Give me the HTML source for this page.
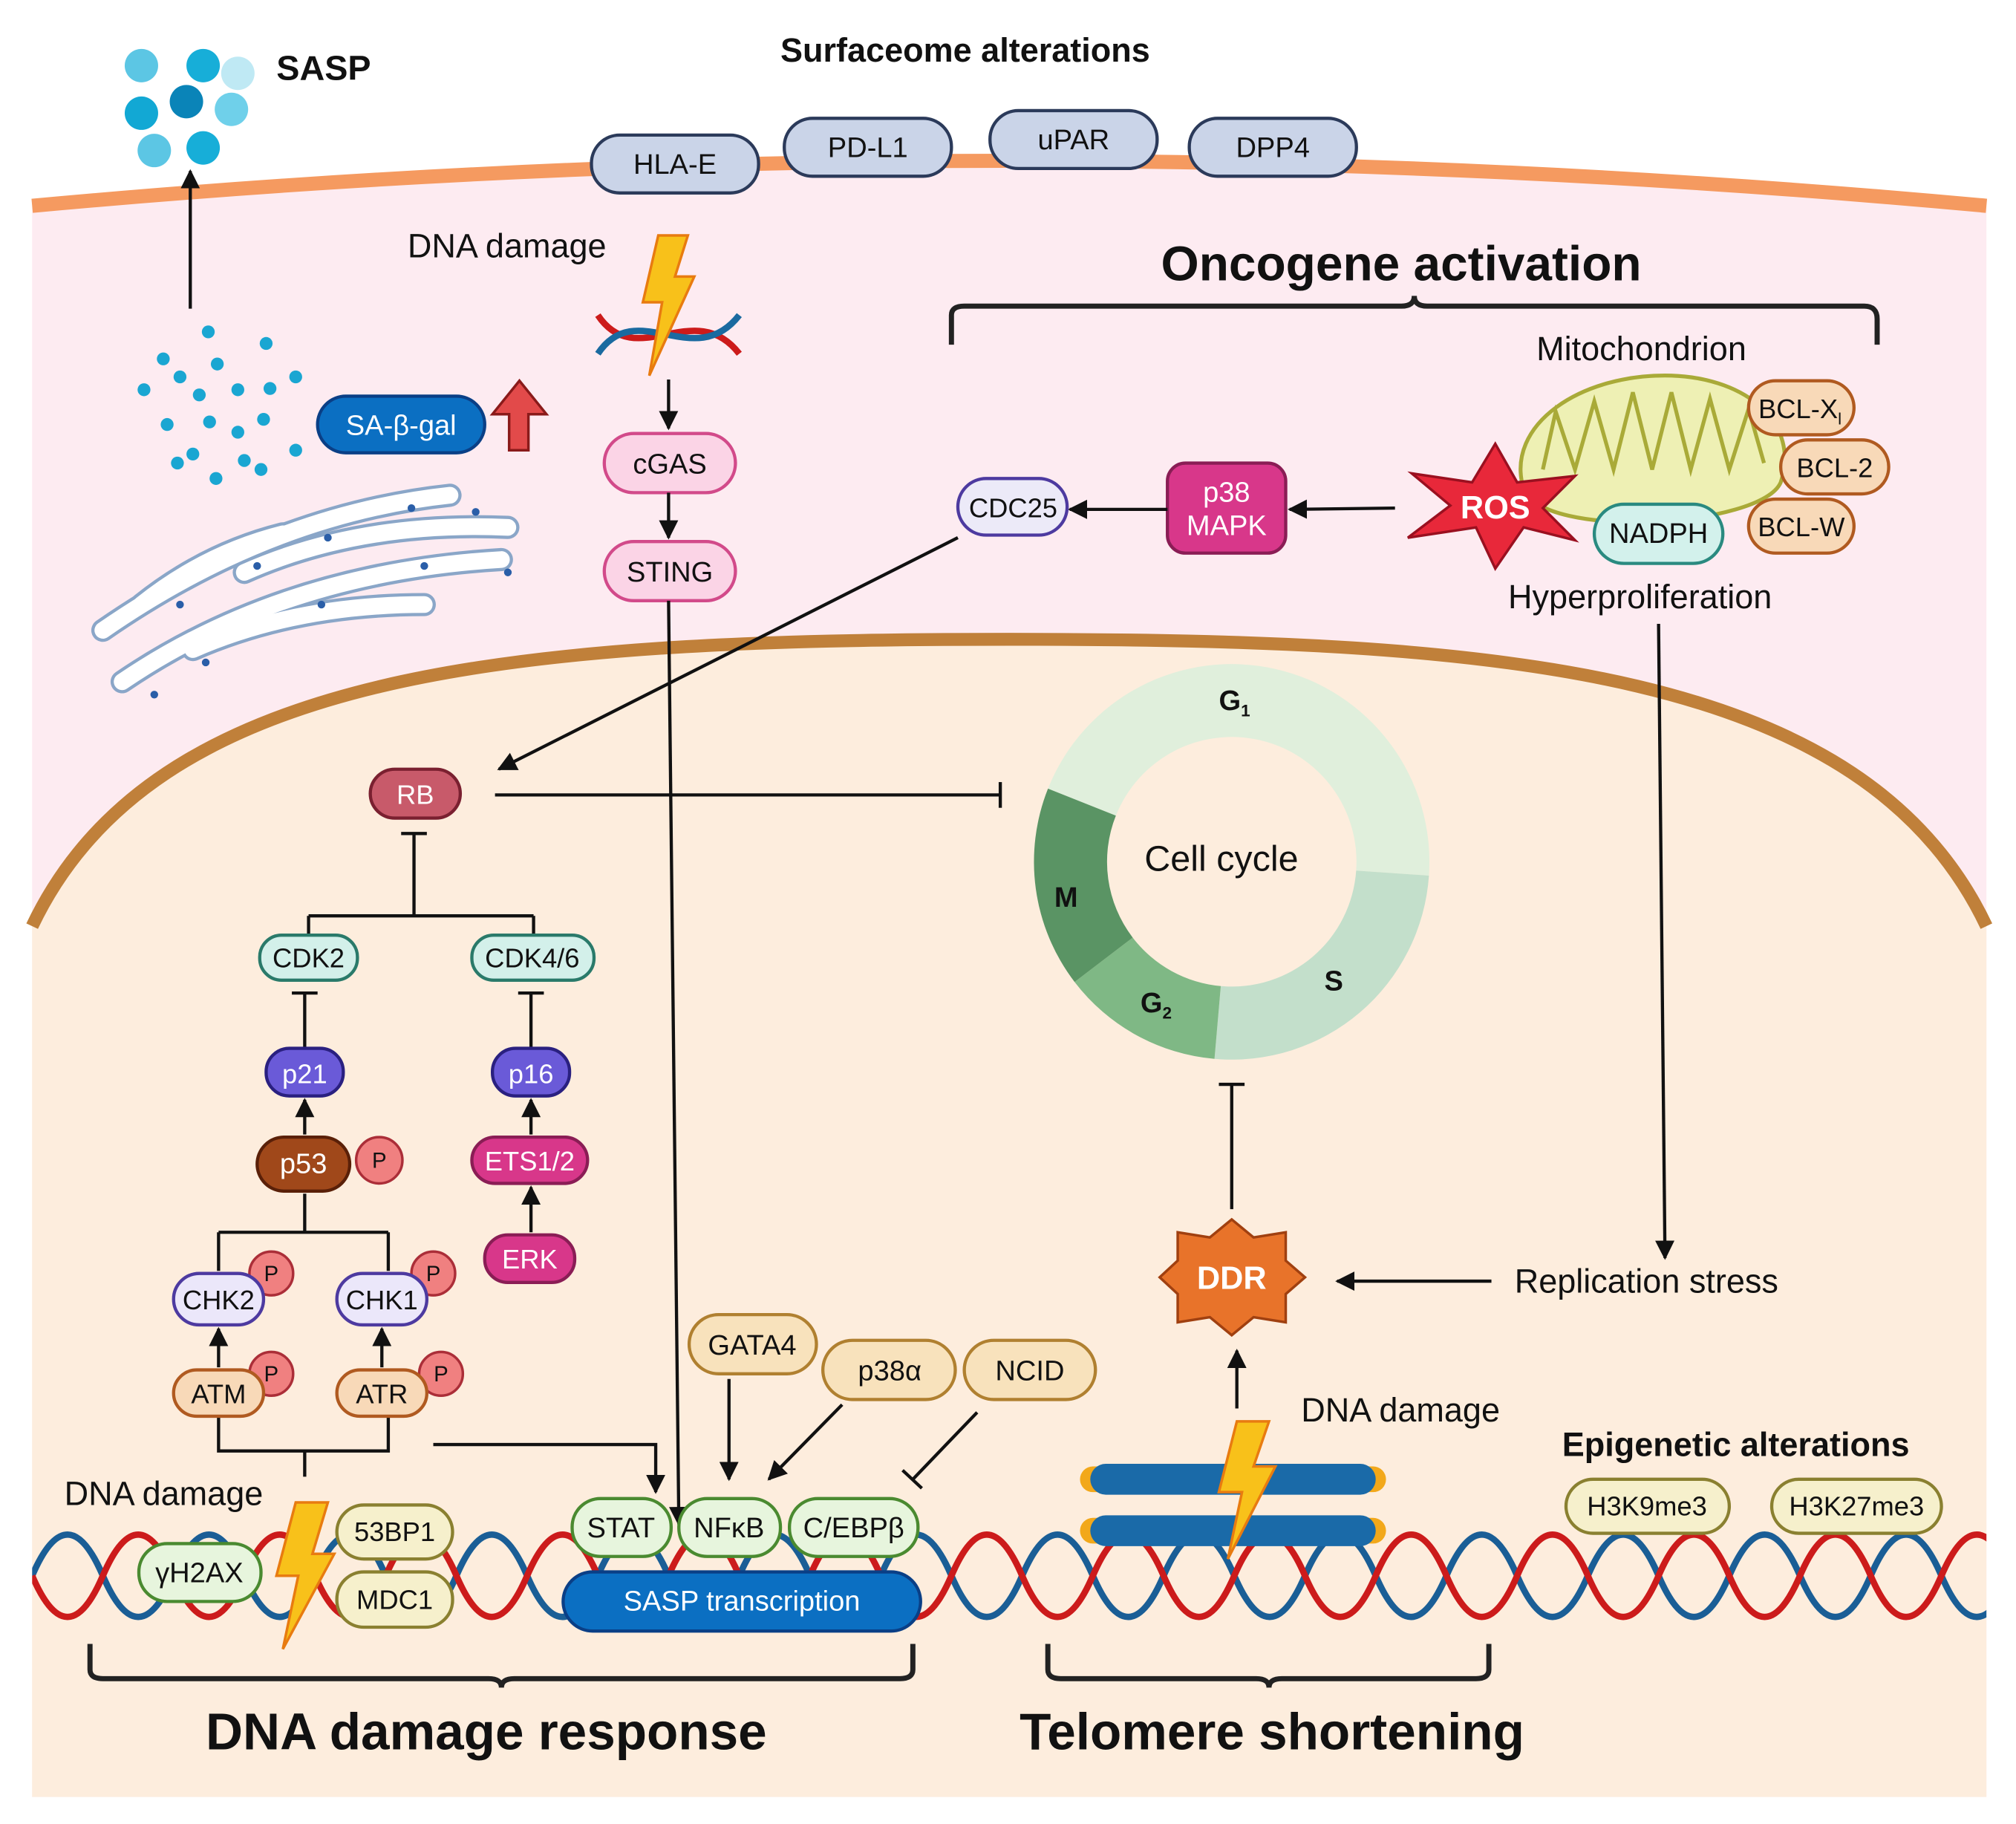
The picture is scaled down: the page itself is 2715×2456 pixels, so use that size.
<!DOCTYPE html>
<html><head><meta charset="utf-8"><style>
html,body{margin:0;padding:0;background:#fff}
svg{display:block}
text{font-family:"Liberation Sans",sans-serif;fill:#111}
</style></head><body>
<svg width="2715" height="2456" viewBox="0 0 1568 1418" preserveAspectRatio="none" xmlns="http://www.w3.org/2000/svg">
<defs>
<marker id="ar" viewBox="0 0 10 10" refX="9" refY="5" markerWidth="6" markerHeight="6" orient="auto"><path d="M0,0 L10,5 L0,10 z" fill="#111"/></marker>
<clipPath id="cp"><rect x="25" y="1100" width="1520" height="300"/></clipPath>
</defs>
<rect width="1568" height="1418" fill="#fff"/>
<path d="M25,160 Q785,90 1545,160 L1545,1397 L25,1397 Z" fill="#fdebf1"/>
<path d="M25,160 Q785,90 1545,160" fill="none" stroke="#f59a60" stroke-width="11"/>
<path d="M25,720 C120,520 400,497 785,497 C1170,497 1450,520 1545,720 L1545,1397 L25,1397 Z" fill="#fdeddd"/>
<path d="M25,720 C120,520 400,497 785,497 C1170,497 1450,520 1545,720" fill="none" stroke="#c0803a" stroke-width="10"/>

<g>
<circle cx="110" cy="51" r="13" fill="#5cc6e4"/><circle cx="158" cy="51" r="13" fill="#17aed8"/><circle cx="185" cy="57" r="13" fill="#bfe9f4"/>
<circle cx="110" cy="88" r="13" fill="#12a8d4"/><circle cx="145" cy="79" r="13" fill="#0a84b8"/><circle cx="180" cy="85" r="13" fill="#6fd0ea"/>
<circle cx="120" cy="117" r="13" fill="#5cc6e4"/><circle cx="158" cy="115" r="13" fill="#17aed8"/>
</g>
<text x="215" y="62" font-size="27" font-weight="bold">SASP</text>
<line x1="148" y1="240" x2="148" y2="133" stroke="#111" stroke-width="2.5" marker-end="url(#ar)"/>
<g fill="#1aa6d2">
<circle cx="162" cy="258" r="5"/><circle cx="207" cy="267" r="5"/><circle cx="127" cy="279" r="5"/><circle cx="169" cy="283" r="5"/><circle cx="140" cy="293" r="5"/><circle cx="185" cy="303" r="5"/><circle cx="210" cy="302" r="5"/><circle cx="230" cy="293" r="5"/><circle cx="112" cy="303" r="5"/><circle cx="155" cy="307" r="5"/><circle cx="205" cy="326" r="5"/><circle cx="130" cy="330" r="5"/><circle cx="163" cy="328" r="5"/><circle cx="185" cy="336" r="5"/><circle cx="150" cy="353" r="5"/><circle cx="190" cy="358" r="5"/><circle cx="230" cy="350" r="5"/><circle cx="138" cy="360" r="5"/><circle cx="168" cy="372" r="5"/><circle cx="203" cy="365" r="5"/>
</g>
<rect x="247" y="308" width="130" height="44" rx="22" fill="#0b6fc2" stroke="#0a3f86" stroke-width="2.5"/>
<text x="312" y="338" font-size="22" text-anchor="middle" style="fill:#fff">SA-β-gal</text>
<path d="M390,322 L403,322 L403,350 L418,350 L418,322 L432,322 L411,296 Z" transform="translate(-7,0)" fill="#e24a4a" stroke="#8a1a1a" stroke-width="2"/>
<g fill="none" stroke-linecap="round">
<g stroke="#8aa6c8" stroke-width="18">
<path d="M80,490 Q210,400 350,385"/><path d="M95,530 Q220,445 390,435"/><path d="M190,445 Q280,405 395,410"/><path d="M150,505 Q230,470 330,470"/><path d="M110,470 Q160,430 220,415"/>
</g>
<g stroke="#fff" stroke-width="13">
<path d="M80,490 Q210,400 350,385"/><path d="M95,530 Q220,445 390,435"/><path d="M190,445 Q280,405 395,410"/><path d="M150,505 Q230,470 330,470"/><path d="M110,470 Q160,430 220,415"/>
</g>
</g>
<g fill="#2a5ea8"><circle cx="140" cy="470" r="3"/><circle cx="200" cy="440" r="3"/><circle cx="255" cy="418" r="3"/><circle cx="320" cy="395" r="3"/><circle cx="370" cy="398" r="3"/><circle cx="395" cy="445" r="3"/><circle cx="160" cy="515" r="3"/><circle cx="250" cy="470" r="3"/><circle cx="330" cy="440" r="3"/><circle cx="120" cy="540" r="3"/></g>

<text x="607" y="48" font-size="26" font-weight="bold">Surfaceome alterations</text>
<g stroke="#2b3a5a" stroke-width="2.5" fill="#cad4e8">
<rect x="460" y="105" width="130" height="45" rx="22"/><rect x="610" y="92" width="130" height="45" rx="22"/><rect x="770" y="86" width="130" height="45" rx="22"/><rect x="925" y="92" width="130" height="45" rx="22"/>
</g>
<g font-size="22" text-anchor="middle">
<text x="525" y="135">HLA-E</text><text x="675" y="122">PD-L1</text><text x="835" y="116">uPAR</text><text x="990" y="122">DPP4</text>
</g>

<text x="317" y="200" font-size="26">DNA damage</text>
<g fill="none" stroke-width="5">
<path d="M465,245 C495,290 540,230 575,275" stroke="#cc1b1b"/>
<path d="M465,275 C495,230 540,290 575,245" stroke="#1a6aa0"/>
</g>
<path d="M512,183 L535,183 L525,215 L540,215 L505,292 L515,235 L500,235 Z" fill="#f8c11a" stroke="#e87b10" stroke-width="2"/>
<line x1="520" y1="295" x2="520" y2="333" stroke="#111" stroke-width="2.5" marker-end="url(#ar)"/>
<rect x="470" y="337" width="102" height="46" rx="23" fill="#fbd4e6" stroke="#d24a8a" stroke-width="2.5"/>
<text x="521" y="368" font-size="22" text-anchor="middle">cGAS</text>
<line x1="520" y1="383" x2="520" y2="418" stroke="#111" stroke-width="2.5" marker-end="url(#ar)"/>
<rect x="470" y="421" width="102" height="46" rx="23" fill="#fbd4e6" stroke="#d24a8a" stroke-width="2.5"/>
<text x="521" y="452" font-size="22" text-anchor="middle">STING</text>
<line x1="520" y1="467" x2="528" y2="1185" stroke="#111" stroke-width="2.5" marker-end="url(#ar)"/>

<text x="903" y="218" font-size="38" font-weight="bold">Oncogene activation</text>
<path d="M740,268 L740,245 Q740,238 750,238 L1090,238 Q1100,238 1100,230 Q1100,238 1110,238 L1450,238 Q1460,238 1460,248 L1460,268" fill="none" stroke="#222" stroke-width="4"/>
<text x="1195" y="280" font-size="26">Mitochondrion</text>
<path d="M1185,380 C1170,330 1230,290 1300,292 C1360,294 1400,330 1385,375 C1370,410 1200,420 1185,380 Z" fill="#eef0b4" stroke="#a9aa38" stroke-width="3"/>
<path d="M1200,365 L1210,320 L1225,365 L1240,312 L1255,365 L1270,305 L1285,365 L1300,305 L1315,365 L1330,310 L1345,365 L1360,318 L1372,360" fill="none" stroke="#a9aa38" stroke-width="3"/>
<g stroke="#b05a20" stroke-width="2.5" fill="#f8d9b8">
<rect x="1360" y="296" width="82" height="42" rx="21"/><rect x="1385" y="342" width="84" height="42" rx="21"/><rect x="1360" y="388" width="82" height="42" rx="21"/>
</g>
<g font-size="21" text-anchor="middle">
<text x="1400" y="325">BCL-X<tspan font-size="13" dy="5">l</tspan></text><text x="1427" y="371">BCL-2</text><text x="1401" y="417">BCL-W</text>
</g>
<rect x="1240" y="392" width="100" height="46" rx="23" fill="#d3f1ec" stroke="#2a8a80" stroke-width="2.5"/>
<text x="1290" y="422" font-size="22" text-anchor="middle">NADPH</text>
<path d="M1163,345 L1180,375 L1225,370 L1200,395 L1225,420 L1185,410 L1163,442 L1148,410 L1095,418 L1128,393 L1098,368 L1145,375 Z" fill="#e8283a" stroke="#9a1020" stroke-width="2"/>
<text x="1163" y="403" font-size="25" font-weight="bold" text-anchor="middle" style="fill:#fff">ROS</text>
<text x="1173" y="473" font-size="26">Hyperproliferation</text>
<line x1="1085" y1="395" x2="1003" y2="396" stroke="#111" stroke-width="2.5" marker-end="url(#ar)"/>
<rect x="908" y="360" width="92" height="70" rx="14" fill="#d8378a" stroke="#8a1d55" stroke-width="2.5"/>
<text x="954" y="390" font-size="22" text-anchor="middle" style="fill:#fff">p38</text>
<text x="954" y="416" font-size="22" text-anchor="middle" style="fill:#fff">MAPK</text>
<line x1="908" y1="396" x2="832" y2="396" stroke="#111" stroke-width="2.5" marker-end="url(#ar)"/>
<rect x="745" y="372" width="85" height="44" rx="22" fill="#eceaf8" stroke="#4d3aa0" stroke-width="2.5"/>
<text x="788" y="402" font-size="21" text-anchor="middle">CDC25</text>
<line x1="745" y1="418" x2="388" y2="598" stroke="#111" stroke-width="2.5" marker-end="url(#ar)"/>
<line x1="1290" y1="485" x2="1295" y2="978" stroke="#111" stroke-width="2.5" marker-end="url(#ar)"/>

<g transform="translate(958,670)">
<path d="M-142.9,-56.9 A153.8,153.8 0 0 1 153.4,10.7 L96.8,6.8 A97,97 0 0 0 -90.1,-35.9 Z" fill="#e0efdc"/>
<path d="M153.4,10.7 A153.8,153.8 0 0 1 -13.4,153.2 L-8.5,96.6 A97,97 0 0 0 96.8,6.8 Z" fill="#c3dfcb"/>
<path d="M-13.4,153.2 A153.8,153.8 0 0 1 -122.2,93.4 L-77.0,58.9 A97,97 0 0 0 -8.5,96.6 Z" fill="#7fb885"/>
<path d="M-122.2,93.4 A153.8,153.8 0 0 1 -142.9,-56.9 L-90.1,-35.9 A97,97 0 0 0 -77.0,58.9 Z" fill="#5a9464"/>
</g>
<text x="950" y="677" font-size="28" text-anchor="middle">Cell cycle</text>
<text x="948" y="552" font-size="22" font-weight="bold">G<tspan font-size="13" dy="5">1</tspan></text>
<text x="1030" y="770" font-size="22" font-weight="bold">S</text>
<text x="887" y="787" font-size="22" font-weight="bold">G<tspan font-size="13" dy="5">2</tspan></text>
<text x="820" y="705" font-size="22" font-weight="bold">M</text>

<rect x="288" y="598" width="70" height="38" rx="19" fill="#c85a6a" stroke="#7a2030" stroke-width="2.5"/>
<text x="323" y="625" font-size="21" text-anchor="middle" style="fill:#fff">RB</text>
<g stroke="#111" stroke-width="2.5" fill="none">
<line x1="385" y1="618" x2="778" y2="618"/><line x1="778" y1="608" x2="778" y2="628"/>
<line x1="322" y1="648" x2="322" y2="712"/><line x1="312" y1="648" x2="332" y2="648"/>
<line x1="240" y1="712" x2="415" y2="712"/><line x1="240" y1="712" x2="240" y2="727"/><line x1="415" y1="712" x2="415" y2="727"/>
<line x1="237" y1="815" x2="237" y2="772"/><line x1="227" y1="772" x2="247" y2="772"/>
<line x1="413" y1="815" x2="413" y2="772"/><line x1="403" y1="772" x2="423" y2="772"/>
<line x1="958" y1="940" x2="958" y2="843"/><line x1="948" y1="843" x2="968" y2="843"/>
<line x1="237" y1="928" x2="237" y2="958"/><line x1="170" y1="958" x2="302" y2="958"/><line x1="170" y1="958" x2="170" y2="988"/><line x1="302" y1="958" x2="302" y2="988"/>
<path d="M170,1102 L170,1128 L302,1128 L302,1102 M237,1128 L237,1148"/>
<path d="M337,1123 L510,1123 L510,1160" marker-end="url(#ar)"/>
</g>
<g stroke="#2a7a6a" stroke-width="2.5" fill="#d3f0ea">
<rect x="202" y="727" width="76" height="35" rx="17"/><rect x="367" y="727" width="95" height="35" rx="17"/>
</g>
<text x="240" y="752" font-size="21" text-anchor="middle">CDK2</text>
<text x="414" y="752" font-size="21" text-anchor="middle">CDK4/6</text>
<g stroke="#2a2080" stroke-width="2.5" fill="#6a5ad8">
<rect x="207" y="815" width="60" height="37" rx="18"/><rect x="383" y="815" width="60" height="37" rx="18"/>
</g>
<text x="237" y="842" font-size="21" text-anchor="middle" style="fill:#fff">p21</text>
<text x="413" y="842" font-size="21" text-anchor="middle" style="fill:#fff">p16</text>
<g stroke="#111" stroke-width="2.5" marker-end="url(#ar)">
<line x1="237" y1="882" x2="237" y2="855"/><line x1="413" y1="882" x2="413" y2="855"/><line x1="413" y1="958" x2="413" y2="923"/>
<line x1="170" y1="1063" x2="170" y2="1033"/><line x1="297" y1="1063" x2="297" y2="1033"/>
<line x1="567" y1="1072" x2="567" y2="1150"/><line x1="655" y1="1092" x2="598" y2="1150"/>
<line x1="1160" y1="996" x2="1040" y2="996"/><line x1="962" y1="1095" x2="962" y2="1050"/>
</g>
<rect x="200" y="884" width="72" height="42" rx="21" fill="#a0481a" stroke="#5a2008" stroke-width="2.5"/>
<text x="236" y="912" font-size="22" text-anchor="middle" style="fill:#fff">p53</text>
<rect x="367" y="884" width="90" height="36" rx="18" fill="#d8378a" stroke="#8a1d55" stroke-width="2.5"/>
<text x="412" y="910" font-size="21" text-anchor="middle" style="fill:#fff">ETS1/2</text>
<rect x="377" y="960" width="70" height="37" rx="18" fill="#d8378a" stroke="#8a1d55" stroke-width="2.5"/>
<text x="412" y="986" font-size="21" text-anchor="middle" style="fill:#fff">ERK</text>
<g stroke="#ab2e38" stroke-width="2" fill="#f08080">
<circle cx="295" cy="902" r="18"/><circle cx="211" cy="990" r="17"/><circle cx="337" cy="990" r="17"/><circle cx="211" cy="1068" r="17"/><circle cx="343" cy="1068" r="17"/>
</g>
<g font-size="17" text-anchor="middle"><text x="295" y="908">P</text><text x="211" y="996">P</text><text x="337" y="996">P</text><text x="211" y="1074">P</text><text x="343" y="1074">P</text></g>
<g stroke="#4d3aa0" stroke-width="2.5" fill="#ebe7fa">
<rect x="135" y="990" width="70" height="40" rx="20"/><rect x="262" y="990" width="70" height="40" rx="20"/>
</g>
<text x="170" y="1018" font-size="21" text-anchor="middle">CHK2</text>
<text x="297" y="1018" font-size="21" text-anchor="middle">CHK1</text>
<g stroke="#b05a20" stroke-width="2.5" fill="#f8d9b8">
<rect x="135" y="1065" width="70" height="36" rx="18"/><rect x="262" y="1065" width="70" height="36" rx="18"/>
</g>
<text x="170" y="1091" font-size="21" text-anchor="middle">ATM</text>
<text x="297" y="1091" font-size="21" text-anchor="middle">ATR</text>

<path d="M958,948 L975,962 L1000,958 L1000,980 L1015,993 L1000,1006 L1000,1028 L975,1024 L958,1038 L941,1024 L916,1028 L916,1006 L902,993 L916,980 L916,958 L941,962 Z" fill="#e8732a" stroke="#a04010" stroke-width="2"/>
<text x="958" y="1002" font-size="25" font-weight="bold" text-anchor="middle" style="fill:#fff">DDR</text>
<text x="1178" y="1005" font-size="26">Replication stress</text>
<text x="1012" y="1105" font-size="26">DNA damage</text>
<text x="1215" y="1132" font-size="26" font-weight="bold">Epigenetic alterations</text>

<g fill="none" stroke-width="5" clip-path="url(#cp)">
<path d="M25,1225 q27.5,-64 55,0 t55,0 t55,0 t55,0 t55,0 t55,0 t55,0 t55,0 t55,0 t55,0 t55,0 t55,0 t55,0 t55,0 t55,0 t55,0 t55,0 t55,0 t55,0 t55,0 t55,0 t55,0 t55,0 t55,0 t55,0 t55,0 t55,0 t55,0" stroke="#1a5e96"/>
<path d="M25,1225 q27.5,64 55,0 t55,0 t55,0 t55,0 t55,0 t55,0 t55,0 t55,0 t55,0 t55,0 t55,0 t55,0 t55,0 t55,0 t55,0 t55,0 t55,0 t55,0 t55,0 t55,0 t55,0 t55,0 t55,0 t55,0 t55,0 t55,0 t55,0 t55,0" stroke="#cc1b1b"/>
</g>
<g stroke-linecap="round">
<line x1="850" y1="1150" x2="1068" y2="1150" stroke="#f2a81a" stroke-width="20"/>
<line x1="850" y1="1190" x2="1068" y2="1190" stroke="#f2a81a" stroke-width="20"/>
<line x1="860" y1="1150" x2="1058" y2="1150" stroke="#1a6aa8" stroke-width="24"/>
<line x1="860" y1="1190" x2="1058" y2="1190" stroke="#1a6aa8" stroke-width="24"/>
</g>
<path d="M962,1105 L987,1105 L975,1140 L992,1140 L955,1212 L966,1160 L948,1160 Z" fill="#f8c11a" stroke="#e87b10" stroke-width="2"/>

<g stroke="#b08030" stroke-width="2.5" fill="#f8e2bc">
<rect x="536" y="1022" width="99" height="46" rx="23"/><rect x="640" y="1042" width="103" height="46" rx="23"/><rect x="750" y="1042" width="102" height="46" rx="23"/>
</g>
<g font-size="22" text-anchor="middle"><text x="585" y="1053">GATA4</text><text x="692" y="1073">p38α</text><text x="801" y="1073">NCID</text></g>
<g stroke="#111" stroke-width="2.5"><line x1="760" y1="1098" x2="710" y2="1150"/><line x1="702" y1="1143" x2="717" y2="1157"/></g>

<g stroke="#4a8a30" stroke-width="2.5" fill="#e7f5dd">
<rect x="445" y="1165" width="77" height="45" rx="22"/><rect x="528" y="1165" width="79" height="45" rx="22"/><rect x="614" y="1165" width="100" height="45" rx="22"/><rect x="108" y="1200" width="95" height="45" rx="22"/>
</g>
<g font-size="22" text-anchor="middle"><text x="483" y="1195">STAT</text><text x="567" y="1195">NFκB</text><text x="664" y="1195">C/EBPβ</text><text x="155" y="1230">γH2AX</text></g>
<rect x="438" y="1222" width="278" height="46" rx="23" fill="#0b6fc2" stroke="#0a3f86" stroke-width="2.5"/>
<text x="577" y="1252" font-size="22" text-anchor="middle" style="fill:#fff">SASP transcription</text>
<g stroke="#8a8030" stroke-width="2.5" fill="#f6f0cc">
<rect x="262" y="1170" width="90" height="42" rx="21"/><rect x="262" y="1222" width="90" height="43" rx="21"/><rect x="1218" y="1150" width="127" height="42" rx="21"/><rect x="1378" y="1150" width="132" height="42" rx="21"/>
</g>
<g font-size="21" text-anchor="middle"><text x="307" y="1198">53BP1</text><text x="307" y="1251">MDC1</text><text x="1281" y="1178">H3K9me3</text><text x="1444" y="1178">H3K27me3</text></g>
<text x="50" y="1170" font-size="26">DNA damage</text>
<path d="M230,1168 L255,1168 L243,1208 L260,1208 L220,1282 L232,1225 L215,1225 Z" fill="#f8c11a" stroke="#e87b10" stroke-width="2"/>

<g fill="none" stroke="#222" stroke-width="4">
<path d="M70,1278 L70,1298 Q70,1305 80,1305 L380,1305 Q390,1305 390,1312 Q390,1305 400,1305 L700,1305 Q710,1305 710,1298 L710,1278"/>
<path d="M815,1278 L815,1298 Q815,1305 825,1305 L977,1305 Q987,1305 987,1312 Q987,1305 997,1305 L1148,1305 Q1158,1305 1158,1298 L1158,1278"/>
</g>
<text x="160" y="1360" font-size="40" font-weight="bold">DNA damage response</text>
<text x="793" y="1360" font-size="40" font-weight="bold">Telomere shortening</text>
</svg>
</body></html>
